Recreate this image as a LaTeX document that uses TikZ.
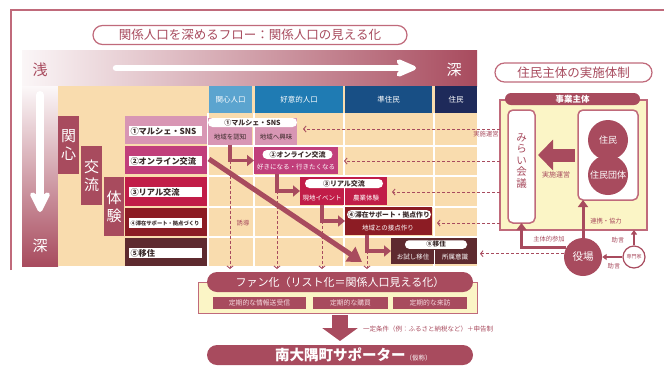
\documentclass[tikz,border=0pt]{standalone}
\usepackage{fontspec}
\setmainfont{Noto Sans CJK JP}
\usetikzlibrary{arrows.meta,calc}
\definecolor{mar}{HTML}{A84B5E}
\definecolor{frm}{HTML}{C06A7B}
\definecolor{beige}{HTML}{F9DCAE}
\definecolor{cream}{HTML}{FBF5C6}
\definecolor{hbA}{HTML}{5BA4CF}
\definecolor{hbB}{HTML}{1F7BB3}
\definecolor{hbC}{HTML}{184F85}
\definecolor{hbD}{HTML}{1E2A5A}
\definecolor{rwA}{HTML}{D896B4}
\definecolor{rwB}{HTML}{C13F7B}
\definecolor{rwC}{HTML}{C11D48}
\definecolor{rwD}{HTML}{8C1C24}
\definecolor{rwE}{HTML}{5E2A2F}
\definecolor{txt}{HTML}{3A2A2A}
\definecolor{pinktxt}{HTML}{F6D9DF}
\newcommand{\fsz}[1]{\fontsize{#1}{#1}\selectfont}
\tikzset{
  cell/.style={rectangle, inner sep=0pt, outer sep=0pt},
  pill/.style={cell, rounded corners=#1},
  hdr/.style={cell, text=white, font=\fsz{7.5}, minimum height=27},
  stage/.style={cell, fill=mar, minimum width=21, text=white, align=center, font=\fontsize{15}{18}\selectfont},
  rowbox/.style={cell, minimum width=82, minimum height=28},
  rowlbl/.style={cell, fill=white, minimum height=10, text width=70, align=left, inner xsep=1.5pt, text=txt, font=\bfseries\fsz{8.2}},
  fhead/.style={pill=4.5pt, fill=white, minimum height=9, text=txt, font=\bfseries\fsz{7}},
  ftxt/.style={inner sep=0pt, text=white, font=\fsz{6.5}},
  dtxt/.style={inner sep=0pt, text=txt, font=\fsz{6.5}},
  lbl/.style={inner sep=0pt, text=mar, font=\fsz{6.3}},
  darrow/.style={mar, line width=0.9pt, dash pattern=on 3pt off 2pt, -{Straight Barb[length=2.5pt,width=6pt]}},
  larrow/.style={mar, line width=3.5pt, -{Triangle[length=7pt,width=11pt]}},
  tarrow/.style={mar, line width=3pt, -{Triangle[length=7pt,width=10pt]}},
  sarrow/.style={mar, line width=1.4pt, -{Triangle[length=4.5pt,width=6pt]}},
  subbox/.style={cell, fill=mar, minimum height=12, text=pinktxt, font=\fsz{6.8}},
}
\begin{document}
\begin{tikzpicture}[x=1pt,y=-1pt]
\useasboundingbox (0,0) rectangle (664,365);
% outer frame
\draw[frm, line width=1.3pt] (11,270) -- (11,10) -- (664,10);
% title
\node[pill=9.5pt, draw=frm, line width=1.2pt, fill=white, minimum width=314, minimum height=19, text=mar, font=\fsz{12.5}] (title) at (250,35) {関係人口を深めるフロー：関係人口の見える化};
% gradient bars
\shade[left color=mar!5!white, middle color=mar!62!white, right color=mar] (22,50) rectangle (477,86);
\shade[top color=mar!4!white, middle color=mar!62!white, bottom color=mar] (22,86) rectangle (58,266);
\node[text=mar, font=\fsz{15}] (shallow) at (40,70) {浅};
\node[text=white, font=\fsz{15}] (deepR) at (454,70) {深};
\coordinate (wa1) at (116,68);
\coordinate (wa2) at (416,68);
\draw[white, line width=6.5pt, line cap=round, -{Stealth[length=28pt,width=24pt,inset=10pt,round]}] (wa1) -- (wa2);
\coordinate (wd1) at (40,95);
\coordinate (wd2) at (40,212);
\draw[white, line width=8pt, line cap=round, -{Stealth[length=26pt,width=26pt,inset=8pt,round]}] (wd1) -- (wd2);
\node[text=white, font=\fsz{15}] (deepB) at (40,246) {深};
% beige grid
\fill[beige] (58,86) rectangle (477,266);
\foreach \x in {208,253.5,344,434} \draw[white, line width=2pt] (\x,113) -- (\x,266);
\foreach \y in {145.5,175.5,206.5,237} \draw[white, line width=2pt] (207,\y) -- (477,\y);
% column headers
\node[hdr, fill=hbA, minimum width=43] (hA) at (230.5,99.5) {関心人口};
\node[hdr, fill=hbB, minimum width=88] (hB) at (299,99.5) {好意的人口};
\node[hdr, fill=hbC, minimum width=87] (hC) at (388.5,99.5) {準住民};
\node[hdr, fill=hbD, minimum width=42] (hD) at (456,99.5) {住民};
% stage boxes
\node[stage, minimum height=58] (stA) at (68.5,145) {関\\心};
\node[stage, minimum height=59] (stB) at (91.5,175.5) {交\\流};
\node[stage, minimum width=20, minimum height=59] (stC) at (114,206.5) {体\\験};
% row boxes
\node[rowbox, fill=rwA] (rA) at (166,130) {};
\node[rowbox, fill=rwB] (rB) at (166,160) {};
\node[rowbox, fill=rwC, minimum height=29] (rC) at (166,191.5) {};
\node[rowbox, fill=rwD] (rD) at (166,222) {};
\node[rowbox, fill=rwE] (rE) at (166,252) {};
\node[rowlbl] (lA) at (165.5,131) {①マルシェ・SNS};
\node[rowlbl] (lB) at (165.5,161) {②オンライン交流};
\node[rowlbl] (lC) at (165.5,192) {③リアル交流};
\node[rowlbl, font=\bfseries\fsz{5.3}] (lD) at (165.5,223) {④滞在サポート・拠点づくり};
\node[rowlbl] (lE) at (165.5,253) {⑤移住};
% flow 1
\node[cell, fill=rwA, minimum width=44, minimum height=27] (s1a) at (230,131) {};
\node[cell, fill=rwA, minimum width=42, minimum height=27] (s1b) at (276,131) {};
\node[fhead, minimum width=89] (f1h) at (252.5,122.5) {①マルシェ・SNS};
\node[dtxt] (s1at) at (230,137.5) {地域を認知};
\node[dtxt] (s1bt) at (276,137.5) {地域へ興味};
% flow 2
\node[cell, fill=rwB, minimum width=84, minimum height=27] (f2) at (296,160.5) {};
\node[fhead, minimum width=70] (f2h) at (297.5,154.5) {②オンライン交流};
\node[ftxt] (f2t) at (296,167.5) {好きになる・行きたくなる};
% flow 3
\node[cell, fill=rwC, minimum width=87, minimum height=28] (f3) at (343.5,191) {};
\node[fhead, minimum width=78] (f3h) at (344,183.5) {③リアル交流};
\node[ftxt] (f3t1) at (322,198) {現地イベント};
\node[ftxt] (f3t2) at (366,198) {農業体験};
\draw[white, line width=0.8pt] (f3h.south) -- (f3h.south |- f3.south);
% flow 4
\node[cell, fill=rwD, minimum width=87, minimum height=28] (f4) at (388.5,221) {};
\node[fhead, minimum width=84, font=\bfseries\fsz{6.8}] (f4h) at (389,214.5) {④滞在サポート・拠点作り};
\node[ftxt] (f4t) at (388,228) {地域との接点作り};
% flow 5
\node[cell, fill=rwE, minimum width=86, minimum height=26] (f5) at (434,251) {};
\node[fhead, pill=4pt, minimum width=62, minimum height=8.5, font=\bfseries\fsz{6.5}] (f5h) at (436,244.5) {⑤移住};
\node[ftxt] (f5t1) at (413,257.5) {お試し移住};
\node[ftxt] (f5t2) at (455,257.5) {所属意識};
\draw[white, line width=0.8pt] (f5.south) -- ++(0,-14);
% right panel
\node[pill=9.5pt, draw=frm, line width=1.2pt, fill=white, minimum width=157, minimum height=19, text=mar, font=\fsz{12.5}] (rtitle) at (573.5,72.5) {住民主体の実施体制};
\node[cell, fill=cream, draw=frm, line width=1.3pt, minimum width=147, minimum height=130] (frame) at (573.5,165) {};
\node[pill=6pt, fill=mar, minimum width=135, minimum height=12, text=white, font=\bfseries\fsz{8.5}] (jigyo) at (572.5,99) {事業主体};
\node[pill=5pt, fill=white, draw=frm, line width=1.5pt, minimum width=27, minimum height=113] (mirai) at (521.5,166.5) {};
\node[inner sep=0pt, text=mar, align=center, font=\fontsize{10.5}{11.5}\selectfont] (miraiT) at (521.5,161) {み\\ら\\い\\会\\議};
\node[pill=5pt, fill=white, draw=frm, line width=1.5pt, minimum width=60, minimum height=90] (res) at (608,155) {};
\node[circle, fill=mar, minimum size=40, inner sep=0pt] (jumin) at (608,140) {};
\node[circle, fill=mar, minimum size=40, inner sep=0pt] (dantai) at (608,175) {};
\node[text=white, font=\fsz{9}] (juminT) at (jumin) {住民};
\node[text=white, font=\fsz{9}] (dantaiT) at (dantai) {住民団体};
\node[circle, fill=mar, minimum size=38, inner sep=0pt, text=white, font=\fsz{10.5}] (yaku) at (583,257) {役場};
\node[circle, fill=white, draw=mar, line width=1.2pt, minimum size=22, inner sep=0pt, text=mar, font=\fsz{5}] (sen) at (634,257) {専門家};
% bottom
\node[cell, fill=cream, draw=frm, line width=1pt, minimum width=279, minimum height=31] (fanbox) at (337.5,297.5) {};
\node[pill=10pt, fill=mar, minimum width=266, minimum height=20, text=white, font=\fsz{11}] (fan) at (340,282) {ファン化（リスト化＝関係人口見える化）};
\node[subbox, minimum width=93] (p1) at (259.5,303) {定期的な情報送受信};
\node[subbox, minimum width=75] (p2) at (350.5,303) {定期的な購買};
\node[subbox, minimum width=74] (p3) at (430,303) {定期的な来訪};
\node[pill=10pt, fill=mar, minimum width=266, minimum height=20] (sup) at (340,355) {};
\node[anchor=west, inner sep=0pt, text=white] (supT) at (275,355) {\fsz{14.5}\bfseries 南大隅町サポーター\fsz{6.5}\mdseries（仮称）};
\node[anchor=west, inner sep=0pt, text=mar, font=\fsz{6.5}] (cond) at (363,329) {一定条件（例：ふるさと納税など）＋申告制};
% labels
\node[lbl] (lbl1) at (606,221) {連携・協力};
\node[lbl] (lbl2) at (549,239) {主体的参加};
\node[lbl] (lbl3) at (618,240) {助言};
\node[lbl] (lbl4) at (614,266) {助言};
\node[lbl, font=\fsz{7}] (lbl5) at (556,175) {実施運営};
\node[lbl] (lbl6) at (486,134) {実施運営};
\node[lbl] (lbl7) at (243,223) {誘導};
% connectors: dashed verticals
\coordinate (c1) at (s1a.south |- f2.west);
\coordinate (b2) at ($(f2.south west)+(23,0)$);
\coordinate (c2) at (b2 |- f3.west);
\coordinate (b3) at ($(f3.south west)+(22,0)$);
\coordinate (c3) at (b3 |- f4.west);
\coordinate (b4) at ($(f4.south west)+(22,0)$);
\coordinate (c4) at (b4 |- f5.west);
\foreach \c in {c1,c2,c3,c4} \draw[darrow, shorten >=3pt] (\c) -- (\c |- fan.north);
% diagonal
\coordinate (dg1) at (209,159);
\coordinate (dg2) at (362,262);
\draw[mar, line width=5pt, -{Triangle[length=14pt,width=17pt]}] (dg1) -- (dg2);
% L arrows
\draw[larrow] (s1a.south) |- (f2.west);
\draw[larrow] (b2) |- (f3.west);
\draw[larrow] (b3) |- (f4.west);
\draw[larrow] (b4) |- (f5.west);
% dashed horizontals
\coordinate (h1) at (303,129);
\coordinate (h2) at (344,161);
\coordinate (h3) at (392,192);
\coordinate (h4) at (437,223);
\foreach \h in {h1,h2,h3,h4} \draw[darrow] (\h -| frame.west) -- (\h);
\draw[darrow, shorten >=3pt] (yaku.170) -- (yaku.170 -| f5.east);
% right panel arrows
\draw[mar, line width=13pt, shorten <=3pt, shorten >=3pt, -{Triangle[length=15pt,width=30pt]}] (res.west) -- (res.west -| mirai.east);
\draw[tarrow] (yaku.north) -- (yaku.north |- res.south);
\draw[tarrow] (yaku.150) -| (mirai.south);
\draw[sarrow] (sen.west) -- (yaku.east);
\draw[sarrow] (sen.north) -- (sen.north |- frame.south);
% big down arrow
\draw[mar, line width=16pt, shorten <=2pt, shorten >=4pt, -{Triangle[length=13pt,width=35pt]}] (fan.south |- fanbox.south) -- (fan.south |- sup.north);
\end{tikzpicture}
\end{document}
